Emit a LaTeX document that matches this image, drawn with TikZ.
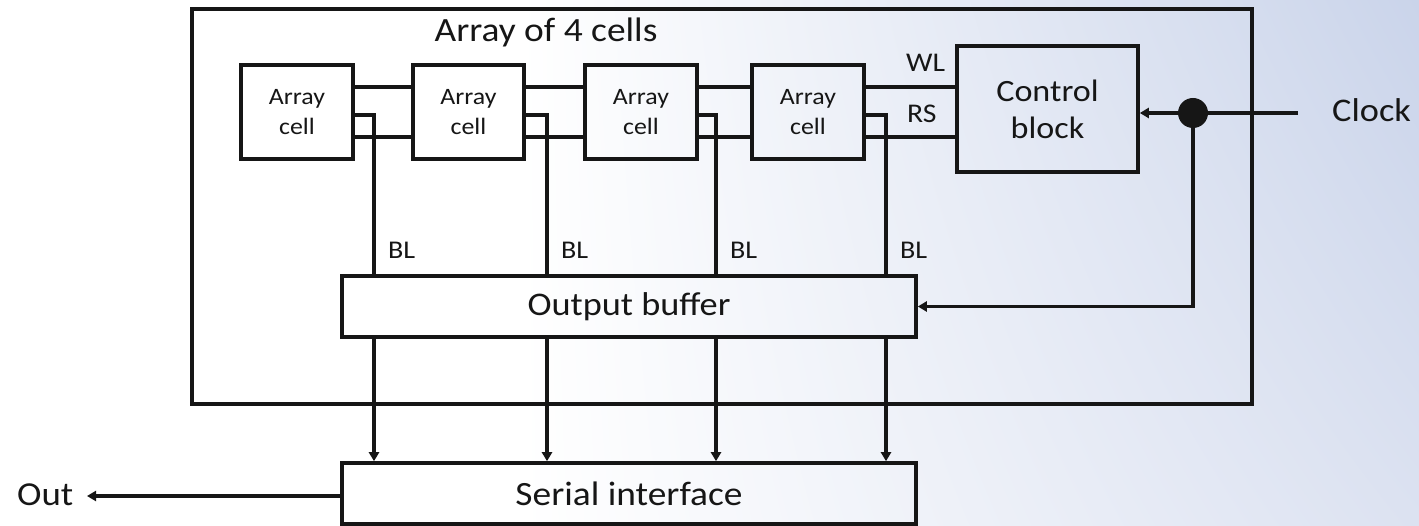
\documentclass[tikz,border=0pt]{standalone}
\usepackage{fontspec}
\setmainfont{Carlito}[FakeStretch=1.1]
\usetikzlibrary{arrows.meta,shadings}
\definecolor{ink}{RGB}{22,22,22}
\definecolor{bgA}{RGB}{202,212,234}
\definecolor{bgB}{RGB}{220,226,241}
\newcommand{\fs}[1]{\fontsize{#1}{1.2\dimexpr#1pt\relax}\selectfont}
\begin{document}
\begin{tikzpicture}[x=1pt,y=-1pt,
  box/.style={draw=ink, line width=3.6pt, inner sep=0pt, align=center, text=ink},
  frame/.style={draw=ink, line width=4pt, inner sep=0pt},
  wire/.style={draw=ink, line width=3.2pt},
  tip/.style={-{Triangle[length=9pt,width=10pt]}},
  lbl/.style={inner sep=0pt, text=ink},
  cellbox/.style={box, minimum width=112pt, minimum height=94pt,
    font=\fontsize{23.5}{30}\selectfont},
  joint/.style={circle, fill=ink, inner sep=0pt, minimum size=30pt}
]
% backdrop: white fading into a pale blue towards the right
\useasboundingbox (0,0) rectangle (1419,526);
\fill[white] (0,0) rectangle (1419,526);
\shade[upper left=white, lower left=white, upper right=bgA, lower right=bgB]
  (520,0) rectangle (1419,526);

% enclosing array block
\node[frame, minimum width=1060pt, minimum height=395pt] (outer) at (722,206.5) {};
\node[lbl, anchor=base, font=\fs{34}] (title) at (546,42) {Array of 4 cells};

% the four cells and the control block
\node[cellbox] (c1) at (297,112) {Array\\cell};
\node[cellbox, minimum width=111pt] (c2) at (468.5,112) {Array\\cell};
\node[cellbox] (c3) at (641,112) {Array\\cell};
\node[cellbox] (c4) at (808,112) {Array\\cell};
\node[box, minimum width=181pt, minimum height=126pt,
  font=\fontsize{31}{37}\selectfont] (ctrl) at (1047.5,109) {Control\\block};

% buffer and serial interface
\node[box, minimum width=574pt, minimum height=61pt, font=\fs{33}] (buf) at (629,306.5) {Output buffer};
\node[box, minimum width=574pt, minimum height=61pt, font=\fs{34}] (ser) at (629,493.5) {Serial interface};

% word line and row select rows
\coordinate (wl) at (0,87);
\coordinate (rs) at (0,137);
\foreach \a/\b in {c1/c2, c2/c3, c3/c4, c4/ctrl} {
  \draw[wire] (\a.east |- wl) -- (\b.west |- wl);
  \draw[wire] (\a.east |- rs) -- (\b.west |- rs);
}
\node[lbl, anchor=base west, font=\fs{27}] (wllbl) at (906,72) {WL};
\node[lbl, anchor=base west, font=\fs{27}] (rslbl) at (907,123) {RS};

% bit lines down to the buffer, then on to the serial interface
\foreach \c/\x in {c1/374, c2/547, c3/716, c4/886} {
  \coordinate (bl\c) at (\x,115);
  \draw[wire] (\c.east |- bl\c) -- (bl\c) -- (bl\c |- buf.north);
  \node[lbl, anchor=base west, font=\fs{25.5}] (bltext\c) at (\x+14,259) {BL};
  \draw[wire, tip] (bl\c |- buf.south) -- (bl\c |- ser.north);
}

% clock distribution
\coordinate (clkin) at (1298,113);
\node[joint] (j) at (1193,113) {};
\node[lbl, anchor=base west, font=\fs{33}] (clk) at (1332,122) {Clock};
\draw[wire] (clkin) -- (j.center);
\draw[wire, tip] (j.center) -- (ctrl.east |- j.center);
\draw[wire, tip] (j.center) |- (buf.east);

% serial output
\node[lbl, anchor=base west, font=\fs{33.5}] (out) at (17,505) {Out};
\coordinate (outend) at (87,496);
\draw[wire, tip] (ser.west |- outend) -- (outend);
\end{tikzpicture}
\end{document}
